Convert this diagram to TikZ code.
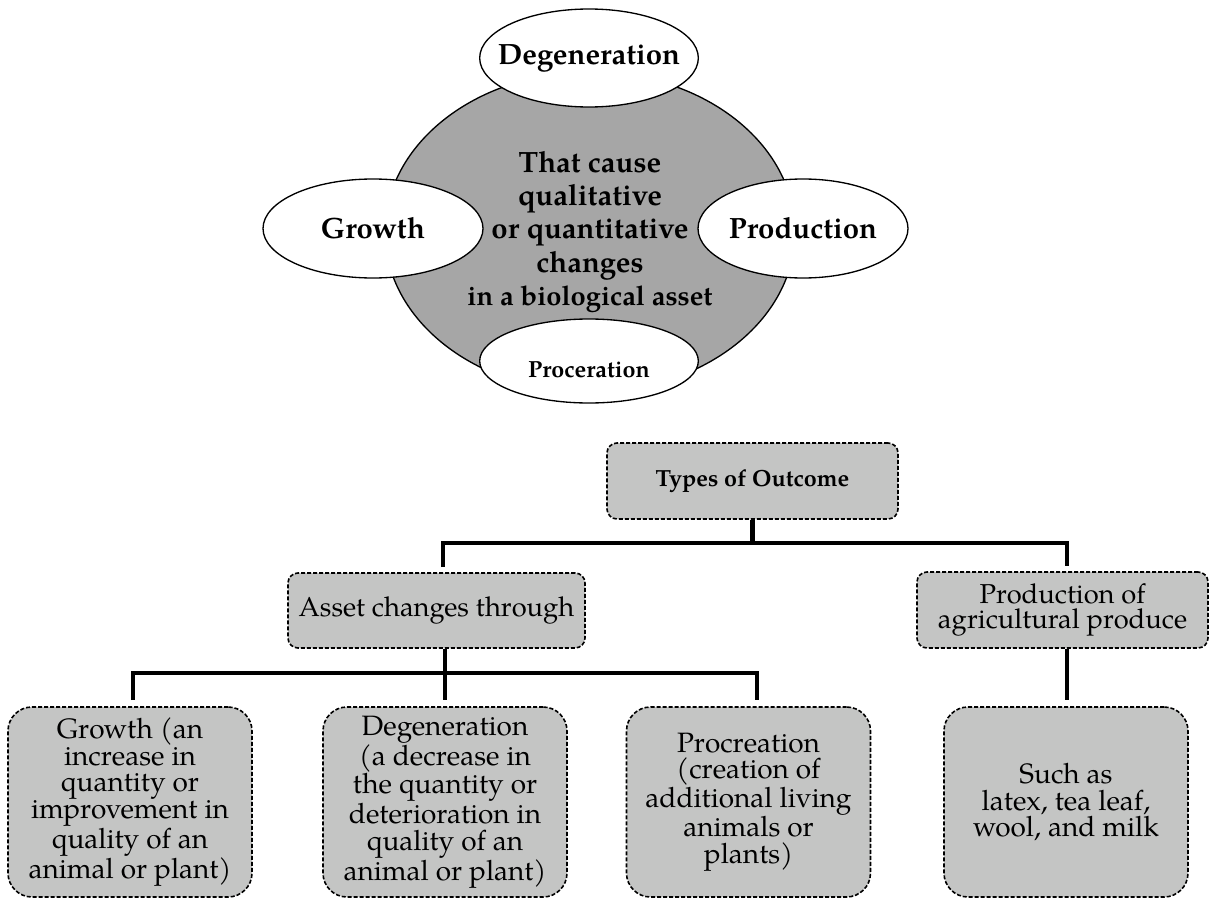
\documentclass[tikz,border=0pt]{standalone}
\usepackage{fontspec}
\setmainfont{texgyrepagella}[Extension=.otf,UprightFont=*-regular,BoldFont=*-bold]
\usetikzlibrary{shapes.geometric}
\definecolor{boxgrey}{RGB}{196,197,196}
\definecolor{ringgrey}{RGB}{166,166,166}
\begin{document}
\begin{tikzpicture}[x=0.75pt,y=-0.75pt,
  oval/.style={ellipse, draw=black, line width=1pt, fill=white, inner sep=0pt},
  ovaltext/.style={inner sep=0pt, font=\bfseries\fontsize{22}{25}\selectfont},
  outcome/.style={draw=black, dash pattern=on 3pt off 1.5pt, line width=1.2pt,
    fill=boxgrey, rounded corners=7.5pt, align=center, inner sep=0pt,
    minimum width=218.25pt, minimum height=57pt,
    font=\fontsize{20.5}{19}\selectfont},
  kind/.style={outcome, rounded corners=18pt, minimum width=183pt,
    minimum height=142.5pt, font=\fontsize{21}{20}\selectfont},
  conn/.style={line width=3.4pt, black},
]
\useasboundingbox (0,0) rectangle (1210,899);

% the grey core and the four processes around it
\node[ellipse, draw=black, line width=1pt, fill=ringgrey, minimum width=307.5pt,
  minimum height=240pt, inner sep=0pt, align=center,
  font=\bfseries\fontsize{22}{25}\selectfont] (core) at (590,232)
  {That cause\\qualitative\\or quantitative\\changes\\{\fontsize{20.5}{23}\selectfont in a biological asset}};

\node[oval, minimum width=165pt, minimum height=74.25pt] (grow) at (373,228.5) {};
\node[ovaltext] (growtxt) at (grow) {Growth};
\node[oval, minimum width=157.5pt, minimum height=74.25pt] (prod) at (803,228.5) {};
\node[ovaltext] (prodtxt) at (prod) {Production};
\node[oval, minimum width=164pt, minimum height=73.5pt] (degen) at (589,58) {};
\node[ovaltext] (degentxt) at (degen) {Degeneration};
\node[oval, minimum width=164pt, minimum height=63pt] (proc) at (589,361) {};
\node[ovaltext, font=\bfseries\fontsize{17.5}{20}\selectfont] (proctxt) at (589,370) {Proceration};

% outcome tree
\node[outcome, font=\bfseries\fontsize{17.5}{19}\selectfont] (types) at (752.5,481) {Types of Outcome};
\node[outcome, minimum width=222.75pt, minimum height=56.25pt] (asset) at (436.5,610.5) {Asset changes through};
\node[outcome] (agri) at (1062.5,610) {Production of\\agricultural produce};

\node[kind] (growbox) at (130,802) {Growth (an\\increase in\\quantity or\\improvement in\\quality of an\\animal or plant)};
\node[kind] (degbox) at (445,802) {Degeneration\\(a decrease in\\the quantity or\\deterioration in\\quality of an\\animal or plant)};
\node[kind] (procbox) at (748.5,802) {Procreation\\(creation of\\additional living\\animals or\\plants)};
\node[kind] (suchbox) at (1066,802) {Such as\\latex, tea leaf,\\wool, and milk};

% connector junctions and ends
\coordinate (ja) at (443,543);
\coordinate (jb) at (1067,543);
\coordinate (a1) at (443,567);
\coordinate (b1) at (1067,566);
\coordinate (kb) at (445,673);
\coordinate (kg) at (133,700);
\coordinate (kc) at (757,673);
\coordinate (kp) at (757,700);
\coordinate (kd) at (445,700);
\coordinate (ks) at (1067,700);

\draw[conn] (types.south) -- (types.south |- ja);
\draw[conn] (a1) |- (jb) -- (b1);
\draw[conn] (asset.south -| kb) -- (kd);
\draw[conn] (kg) |- (kc) -- (kp);
\draw[conn] (agri.south -| ks) -- (ks);
\end{tikzpicture}
\end{document}
